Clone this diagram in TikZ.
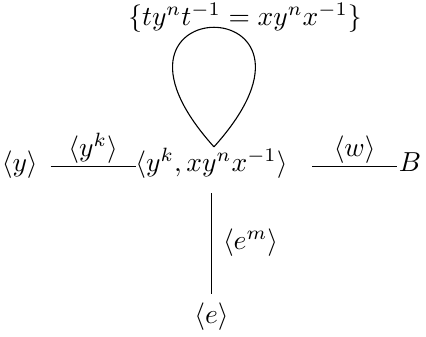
\documentclass[tikz,border=0pt]{standalone}
\usepackage{tikz}
\usetikzlibrary{positioning, calc}
\tikzset{
  vertex/.style={
    inner sep=3.33pt, text height=7.8pt, text depth=4.2pt
  },
  edgelbl/.style={inner sep=1pt},
  gline/.style={line width=0.4pt, black}
}

\begin{document}
\begin{tikzpicture}[node distance=28.5pt]
  \useasboundingbox (-76.9pt,-61.5pt) rectangle (78pt,60.7pt);
  % vertex groups
  \node[vertex] (mid) at (0,0) {$\langle y^k, xy^nx^{-1}\rangle$};
  \node[vertex, left=28.5pt of mid] (ygrp) {$\langle y\rangle$};
  \node[vertex, right=33.4pt of mid] (bgrp) {$B$};
  \node[vertex, below=36.2pt of mid] (egrp) {$\langle e\rangle$};
  % loop and its relation
  \coordinate (tip) at ([shift={(0.9pt,7.3pt)}]mid.center);
  \node[vertex] (rel) at ([shift={(12.2pt,53.2pt)}]mid.center)
    {$\{ty^nt^{-1} = xy^nx^{-1}\}$};
  \draw[gline] (tip) .. controls +(48:78pt) and +(132:78pt) .. (tip);
  % edges
  \draw[gline] ([xshift=1.2pt]ygrp.east) --
    node[edgelbl, above] {$\langle y^k\rangle$} ([xshift=3.6pt]mid.west);
  \draw[gline] ([xshift=5.5pt]mid.east) --
    node[edgelbl, above] {$\langle w\rangle$} ([xshift=2.9pt]bgrp.west);
  \draw[gline, shorten >=-0.5pt] (mid) --
    node[edgelbl, right=3pt] {$\langle e^m\rangle$} (egrp);
\end{tikzpicture}
\end{document}
